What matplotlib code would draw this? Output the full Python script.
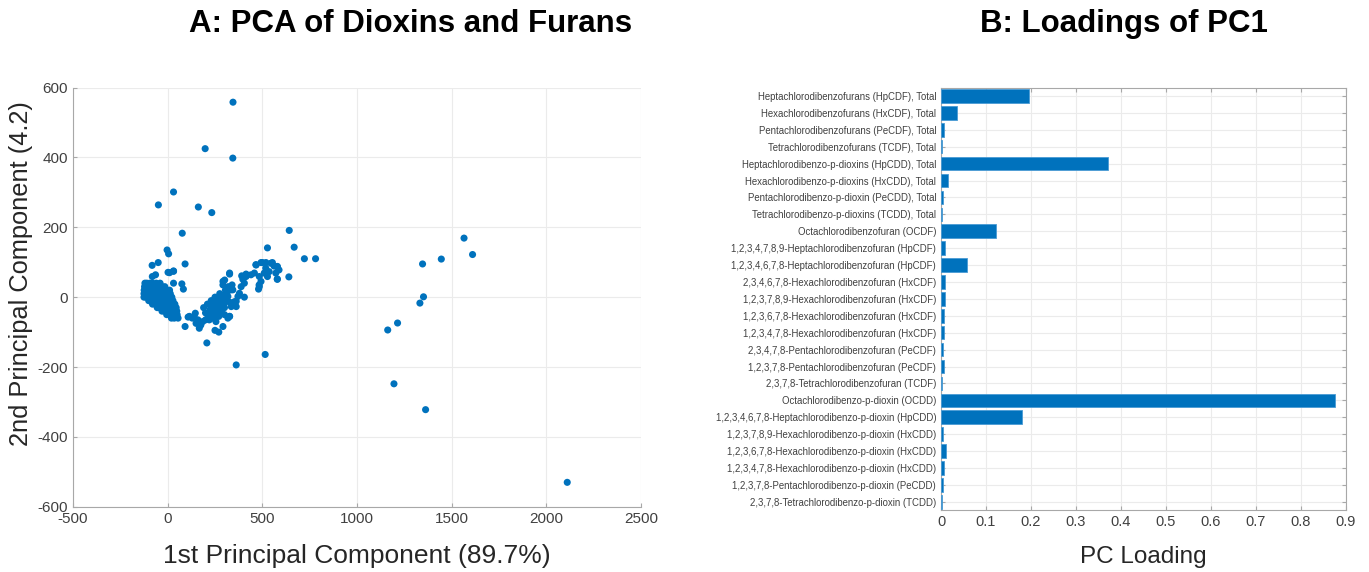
import matplotlib
matplotlib.use("Agg")
import matplotlib.pyplot as plt
import numpy as np

plt.rcParams['font.family'] = ['Liberation Sans', 'DejaVu Sans']
plt.rcParams['axes.unicode_minus'] = False

BLUE = '#0072BD'
TICKC = '#404040'
SPINE = '#a8a8a8'
GRIDC = '#ebebeb'

# ---------------- Panel A data: PCA scores (PC1, PC2) ----------------
pc1 = [
    # outliers
    345, 198, 344, 31, -49, 162, 233, 77, 642, 527, 668, 722, 781, 640,
    1346, 1445, 1351, 1332, 1214, 1162, 207, 515, 362, 1565, 1610, 1195, 1362, 2110,
    # scattered near main cluster
    -3, 5, -82, -50, 2, 31, 10, 31, -81, -64, 31, 75, 83, 92, 49, 92, 108, 146, 167,
    # dense triangle cluster
    -120, -110, -95, -80, -60, -40,
    -122, -112, -100, -88, -75, -60, -45, -30, -15,
    -124, -115, -105, -95, -85, -72, -58, -44, -30, -18, -5, 10,
    -125, -118, -108, -98, -88, -78, -66, -52, -40, -28, -15, 0, 14,
    -125, -115, -104, -92, -80, -68, -55, -42, -30, -18, -5, 8, 22,
    -100, -88, -75, -62, -50, -38, -25, -12, 2, 15, 28,
    -80, -66, -52, -40, -28, -15, -2, 12, 25, 38,
    -55, -42, -30, -18, -5, 8, 20, 32, 45,
    -30, -18, -5, 8, 20, 35, 48,
    -5, 10, 22, 35, 50,
    20, 35, 55,
    # second cluster blob
    190, 200, 210, 215, 225, 230, 235, 240, 245, 250, 255, 260, 265, 270, 275, 280,
    285, 290, 295, 300, 305, 310, 315, 320, 330, 340, 260, 245, 230, 220, 250, 270,
    285, 300, 200, 185, 150, 130, 115, 140, 160, 175, 250, 270,
    # arc toward upper right
    467, 493, 519, 545, 562, 579, 588, 571, 579, 536, 510, 484, 493, 484, 458, 440,
    414, 397, 405, 388, 371, 353, 362, 336, 327, 318, 292, 327, 301, 292, 336, 318,
    301, 284, 275,
    391, 414, 466, 501, 518, 553, 579, 579, 483, 480, 527, 327, 292, 344, 379, 405,
    362, 327,
]
pc2 = [
    558, 425, 398, 301, 264, 258, 242, 183, 191, 141, 143, 110, 110, 58,
    95, 109, 1, -17, -74, -94, -131, -164, -194, 169, 122, -248, -322, -530,
    135, 124, 91, 99, 71, 74, 70, 75, 59, 64, 40, 38, 23, 95, -57, -84, -57, -46, -89,
    40, 40, 40, 40, 40, 40,
    30, 30, 30, 30, 30, 30, 30, 30, 30,
    20, 20, 20, 20, 20, 20, 20, 20, 20, 20, 20, 20,
    10, 10, 10, 10, 10, 10, 10, 10, 10, 10, 10, 10, 10,
    0, 0, 0, 0, 0, 0, 0, 0, 0, 0, 0, 0, 0,
    -10, -10, -10, -10, -10, -10, -10, -10, -10, -10, -10,
    -20, -20, -20, -20, -20, -20, -20, -20, -20, -20,
    -30, -30, -30, -30, -30, -30, -30, -30, -30,
    -40, -40, -40, -40, -40, -40, -40,
    -50, -50, -50, -50, -50,
    -60, -60, -60,
    -30, -45, -20, -55, -35, -10, -60, -25, -45, 0, -70, -15, -35, -55, 10, -25,
    -45, 5, -10, -30, 20, -5, 15, 30, -15, 35, -30, -10, -40, -65, -55, -5,
    -15, -50, -65, -70, -75, -60, -55, -55, -65, -80, -95, -100,
    92, 99, 99, 97, 89, 87, 78, 69, 51, 73, 69, 59, 45, 30, 69, 64,
    59, 51, 40, 30, 2, -13, -27, -27, -55, -60, -84, 69, 49, 35, 21, 2,
    -17, -27, -41,
    61, 66, 93, 99, 83, 99, 88, 52, 35, 23, 59, 66, 45, 21, 11, 0,
    -12, -55,
]

# ---------------- Panel B data: PC1 loadings ----------------
compounds = [
    "Heptachlorodibenzofurans (HpCDF), Total",
    "Hexachlorodibenzofurans (HxCDF), Total",
    "Pentachlorodibenzofurans (PeCDF), Total",
    "Tetrachlorodibenzofurans (TCDF), Total",
    "Heptachlorodibenzo-p-dioxins (HpCDD), Total",
    "Hexachlorodibenzo-p-dioxins (HxCDD), Total",
    "Pentachlorodibenzo-p-dioxin (PeCDD), Total",
    "Tetrachlorodibenzo-p-dioxins (TCDD), Total",
    "Octachlorodibenzofuran (OCDF)",
    "1,2,3,4,7,8,9-Heptachlorodibenzofuran (HpCDF)",
    "1,2,3,4,6,7,8-Heptachlorodibenzofuran (HpCDF)",
    "2,3,4,6,7,8-Hexachlorodibenzofuran (HxCDF)",
    "1,2,3,7,8,9-Hexachlorodibenzofuran (HxCDF)",
    "1,2,3,6,7,8-Hexachlorodibenzofuran (HxCDF)",
    "1,2,3,4,7,8-Hexachlorodibenzofuran (HxCDF)",
    "2,3,4,7,8-Pentachlorodibenzofuran (PeCDF)",
    "1,2,3,7,8-Pentachlorodibenzofuran (PeCDF)",
    "2,3,7,8-Tetrachlorodibenzofuran (TCDF)",
    "Octachlorodibenzo-p-dioxin (OCDD)",
    "1,2,3,4,6,7,8-Heptachlorodibenzo-p-dioxin (HpCDD)",
    "1,2,3,7,8,9-Hexachlorodibenzo-p-dioxin (HxCDD)",
    "1,2,3,6,7,8-Hexachlorodibenzo-p-dioxin (HxCDD)",
    "1,2,3,4,7,8-Hexachlorodibenzo-p-dioxin (HxCDD)",
    "1,2,3,7,8-Pentachlorodibenzo-p-dioxin (PeCDD)",
    "2,3,7,8-Tetrachlorodibenzo-p-dioxin (TCDD)",
]
loadings = [
    0.196, 0.036, 0.007, 0.003, 0.372, 0.016, 0.005, 0.002, 0.122,
    0.009, 0.058, 0.008, 0.008, 0.007, 0.007, 0.005, 0.006, 0.001,
    0.876, 0.180, 0.005, 0.010, 0.006, 0.005, 0.002,
]

fig = plt.figure(figsize=(13.69, 5.72), dpi=100)

# ---- Panel A ----
axA = fig.add_axes([0.0533, 0.114, 0.415, 0.733])
axA.scatter(pc1, pc2, s=26, color=BLUE, edgecolors='none', zorder=3)
axA.set_xlim(-500, 2500)
axA.set_ylim(-600, 600)
axA.set_xticks(np.arange(-500, 2501, 500))
axA.set_yticks(np.arange(-600, 601, 200))
axA.grid(True, color=GRIDC, linewidth=0.8, zorder=0)
axA.set_axisbelow(True)
for s in ['top', 'right']:
    axA.spines[s].set_visible(False)
for s in ['left', 'bottom']:
    axA.spines[s].set_color(SPINE)
axA.tick_params(direction='in', length=3, color=SPINE, labelcolor=TICKC, labelsize=11)
axA.set_xlabel("1st Principal Component (89.7%)", fontsize=19, color='#262626', labelpad=13)
axA.set_ylabel("2nd Principal Component (4.2)", fontsize=18.3, color='#262626')
axA.yaxis.set_label_coords(-0.071, 0.556)

# ---- Panel B ----
axB = fig.add_axes([0.6874, 0.108, 0.2958, 0.739])
ypos = np.arange(len(compounds))
axB.barh(ypos, loadings, height=0.8, color=BLUE, edgecolor='#4a9bd4', linewidth=0.6, zorder=3)
axB.set_yticks(ypos)
axB.set_yticklabels(compounds, fontsize=6.9)
axB.set_ylim(len(compounds) - 0.5, -0.5)
axB.set_xlim(0, 0.9)
axB.set_xticks(np.arange(0, 0.91, 0.1))
axB.set_xticklabels(['0'] + ['%.1f' % v for v in np.arange(0.1, 0.91, 0.1)])
axB.grid(True, color=GRIDC, linewidth=0.8, zorder=0)
axB.set_axisbelow(True)
for s in axB.spines.values():
    s.set_color(SPINE)
axB.tick_params(direction='in', length=3, color=SPINE, labelcolor=TICKC,
                top=True, right=True)
axB.tick_params(axis='x', labelsize=10.5)
axB.set_xlabel("PC Loading", fontsize=17.5, color='#262626', labelpad=12)

fig.text(0.30, 0.958, "A: PCA of Dioxins and Furans", ha='center', va='center',
         fontsize=22.5, fontweight='bold')
fig.text(0.821, 0.958, "B: Loadings of PC1", ha='center', va='center',
         fontsize=22.5, fontweight='bold')

fig.savefig("out.png", dpi=100)
